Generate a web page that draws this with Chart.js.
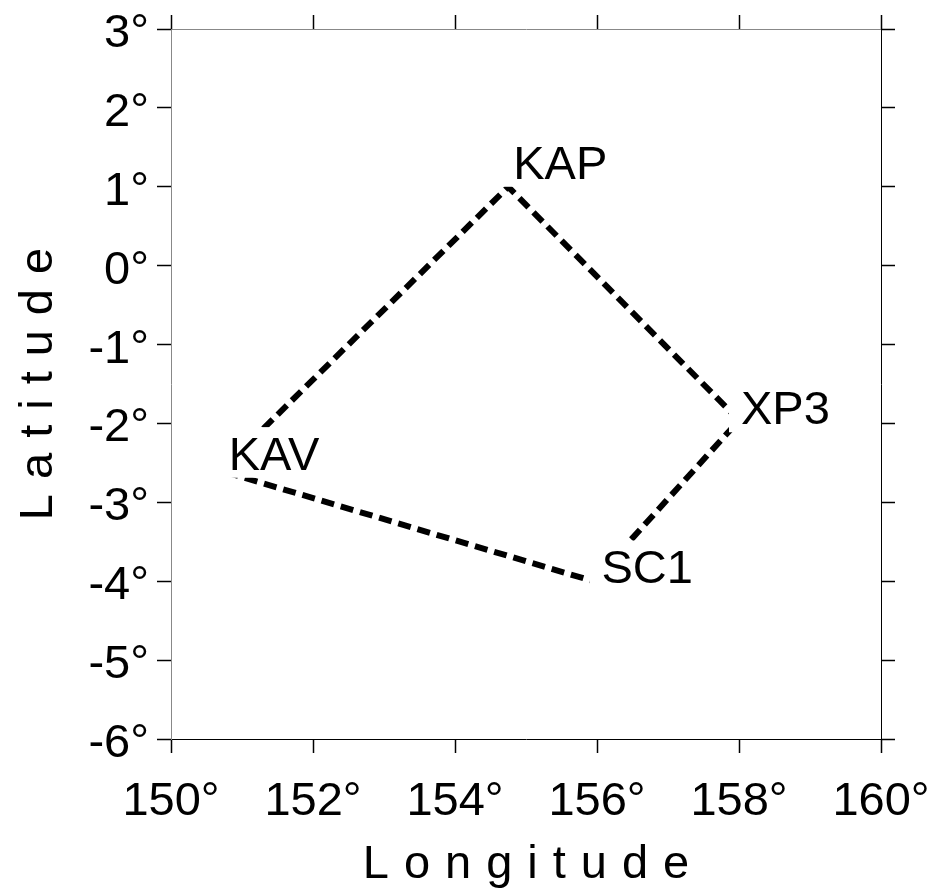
<!DOCTYPE html>
<html><head><meta charset="utf-8">
<script src="https://cdn.jsdelivr.net/npm/chart.js@4"></script>
<style>html,body{margin:0;padding:0;background:#fff}</style>
</head><body>
<canvas id="c" width="939" height="890" style="width:939px;height:890px;display:block"></canvas>
<script>
// ---- data ----
const stations = ['KAV', 'KAP', 'XP3', 'SC1'];
const lon = [150.7, 154.75, 158.0, 155.95];
const lat = [-2.6, 1.0, -1.96, -4.0];
const pathOrder = [0, 1, 2, 3, 0];
const xTicks = [150, 152, 154, 156, 158, 160];
const yTicks = [3, 2, 1, 0, -1, -2, -3, -4, -5, -6];
const xTitle = 'Longitude';
const yTitle = 'Latitude';

// ---- styling (not data) ----
const FONT = '"Liberation Sans", Arial, Helvetica, sans-serif';
const FS = 47;
const labelOffsets = { KAV: [8, -1], KAP: [5, -8], XP3: [2, 4], SC1: [8, 2] };

const pts = pathOrder.map(i => ({ x: lon[i], y: lat[i] }));
const deg = v => v + '\u00B0';

function setTicks(arr) {
  return s => { s.ticks = arr.map(v => ({ value: v })); };
}
function fixSize(prop, val) {
  return s => {
    s[prop] = val;
    s.paddingLeft = 0; s.paddingRight = 0; s.paddingTop = 0; s.paddingBottom = 0;
  };
}
function common(min, max, ticksArr, position, showLabels, borderColor, pad, lblOff) {
  return {
    type: 'linear', position, min, max,
    afterBuildTicks: setTicks(ticksArr),
    ticks: {
      display: showLabels, callback: deg, color: '#000', autoSkip: false,
      maxRotation: 0, minRotation: 0, padding: pad, labelOffset: lblOff,
      font: { family: FONT, size: FS }
    },
    grid: { drawOnChartArea: false, drawTicks: true, tickLength: 14, tickColor: '#000', tickWidth: 1.5 },
    border: { display: true, color: borderColor, width: 1 },
    title: { display: false }
  };
}

const labelPlugin = {
  id: 'stationLabels',
  afterDatasetsDraw(chart) {
    const ctx = chart.ctx, xs = chart.scales.x, ys = chart.scales.y;
    ctx.save();
    ctx.font = FS + 'px ' + FONT;
    ctx.textAlign = 'left';
    ctx.textBaseline = 'alphabetic';
    const capH = FS * 0.716;
    stations.forEach((name, i) => {
      const px = xs.getPixelForValue(lon[i]);
      const py = ys.getPixelForValue(lat[i]);
      const off = labelOffsets[name] || [6, 0];
      const tx = px + off[0], ty = py + off[1];
      const w = ctx.measureText(name).width;
      ctx.fillStyle = '#fff';
      ctx.fillRect(tx - 12, ty - capH - 9, w + 20, capH + 17);
      ctx.fillStyle = '#000';
      ctx.fillText(name, tx, ty);
    });
    ctx.restore();
  }
};

const titlePlugin = {
  id: 'axisTitles',
  afterDraw(chart) {
    const ctx = chart.ctx, ca = chart.chartArea;
    const ls = 15;
    ctx.save();
    ctx.font = FS + 'px ' + FONT;
    ctx.fillStyle = '#000';
    ctx.textBaseline = 'alphabetic';
    ctx.textAlign = 'left';
    ctx.letterSpacing = ls + 'px';
    let w = ctx.measureText(xTitle).width;
    let cx = (ca.left + ca.right) / 2;
    ctx.fillText(xTitle, cx - (w - ls) / 2, 878);
    w = ctx.measureText(yTitle).width;
    ctx.translate(52, (ca.top + ca.bottom) / 2);
    ctx.rotate(-Math.PI / 2);
    ctx.fillText(yTitle, -(w - ls) / 2, 0);
    ctx.restore();
  }
};

const xB = common(150, 160, xTicks, 'bottom', true, '#000', 21, 0);
xB.afterFit = fixSize('height', 151);
const xT = common(150, 160, xTicks, 'top', false, '#888', 8, 0);
xT.afterFit = fixSize('height', 29);
const yL = common(-6, 3, yTicks, 'left', true, '#888', 8, 5);
yL.afterFit = fixSize('width', 171);
const yR = common(-6, 3, yTicks, 'right', false, '#000', 8, 0);
yR.afterFit = fixSize('width', 58);

new Chart(document.getElementById('c'), {
  type: 'scatter',
  data: {
    datasets: [{
      label: 'Stations',
      data: pts,
      showLine: true,
      borderColor: '#000',
      borderWidth: 6,
      borderDash: [13, 7],
      borderCapStyle: 'butt',
      tension: 0,
      pointRadius: 0,
      fill: false
    }]
  },
  options: {
    responsive: false,
    animation: false,
    devicePixelRatio: 1,
    layout: { padding: 0, autoPadding: false },
    plugins: { legend: { display: false }, tooltip: { enabled: false } },
    scales: { x: xB, x2: xT, y: yL, y2: yR }
  },
  plugins: [labelPlugin, titlePlugin]
});
</script>
</body></html>
